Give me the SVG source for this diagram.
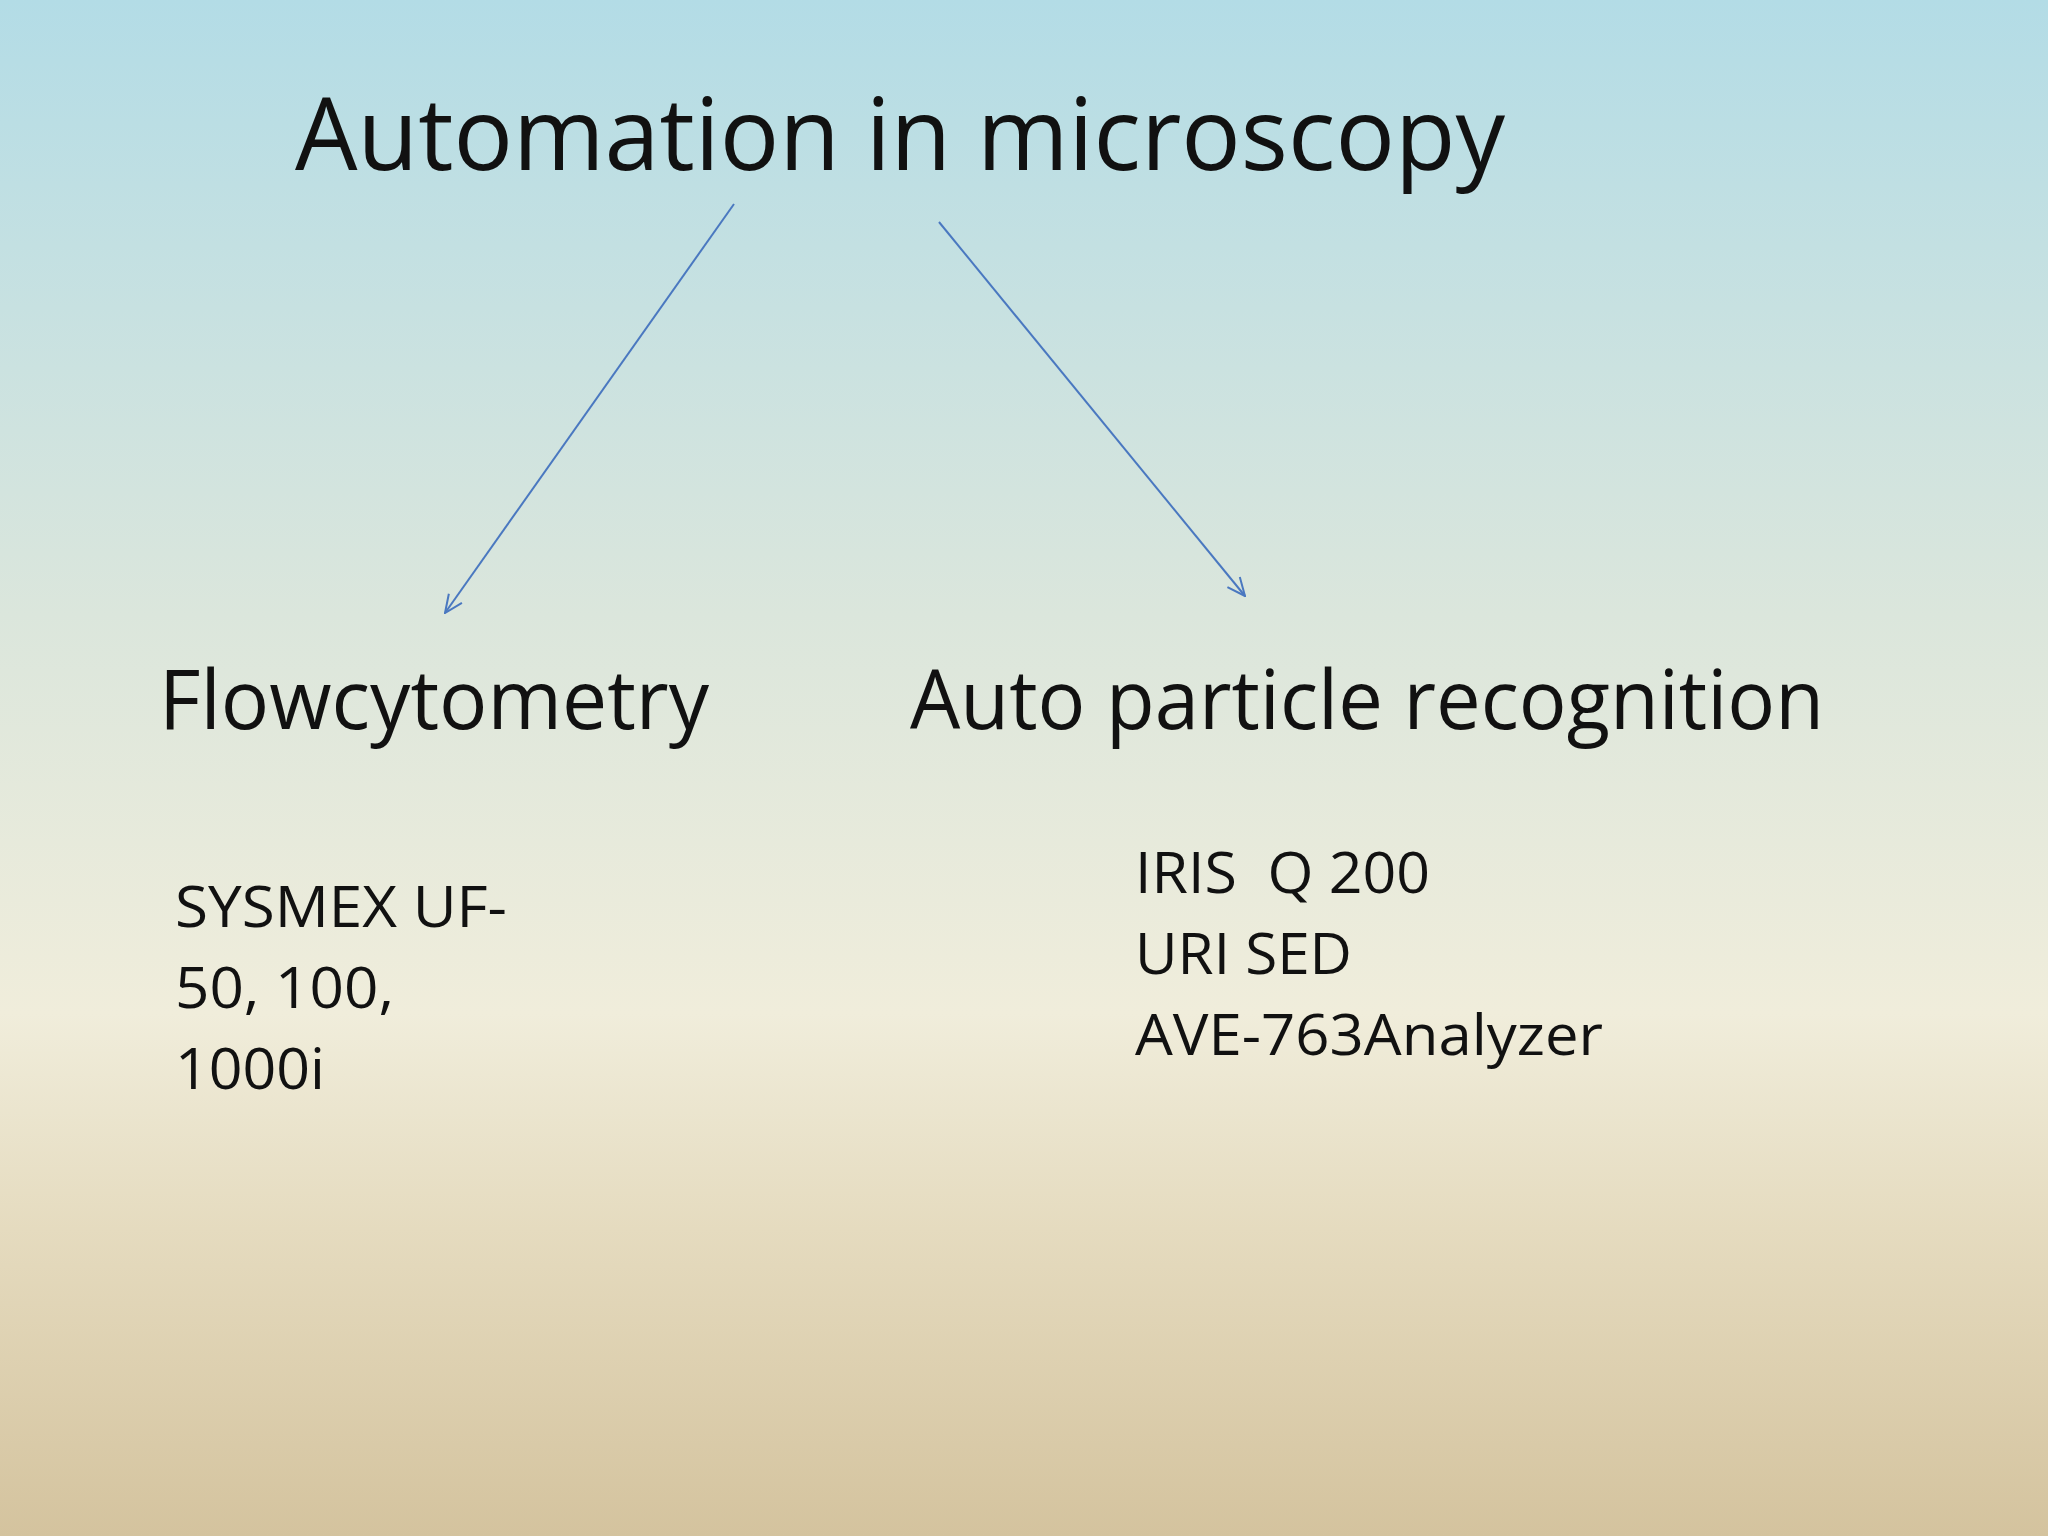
<svg xmlns="http://www.w3.org/2000/svg" width="2048" height="1536" viewBox="0 0 2048 1536">
<defs>
<linearGradient id="bg" x1="0" y1="0" x2="0" y2="1">
<stop offset="0" stop-color="#b3dce6"/>
<stop offset="0.4" stop-color="#dbe6dc"/>
<stop offset="0.66" stop-color="#f0eddb"/>
<stop offset="0.8" stop-color="#e5dbbf"/>
<stop offset="1" stop-color="#d4c39e"/>
</linearGradient>
<marker id="ah" viewBox="0 0 20 20" refX="19" refY="10" markerWidth="20" markerHeight="20" markerUnits="userSpaceOnUse" orient="auto">
<path d="M1,2 L19,10 L1,18" fill="none" stroke="#4a78c0" stroke-width="2"/>
</marker>
<style>
text{font-family:"Open Sans","Noto Sans","Liberation Sans",sans-serif;fill:#111}
.t{font-size:100px}.h{font-size:82px}.s{font-size:56px}
.c{stroke:#4a78c0;stroke-width:2;fill:none;marker-end:url(#ah)}
</style>
</defs>
<rect width="2048" height="1536" fill="url(#bg)"/>
<g id="title"><text class="t" x="295" y="170" textLength="1210" lengthAdjust="spacingAndGlyphs">Automation in microscopy</text></g>
<g id="connectors">
<line class="c" x1="734" y1="204" x2="445" y2="613"/>
<line class="c" x1="939" y1="222" x2="1245" y2="596"/>
</g>
<g id="flow"><text class="h" x="159" y="729" textLength="550" lengthAdjust="spacingAndGlyphs">Flowcytometry</text></g>
<g id="auto"><text class="h" x="910" y="729" textLength="914" lengthAdjust="spacingAndGlyphs">Auto particle recognition</text></g>
<g id="sysmex">
<text class="s" x="175" y="927" textLength="332" lengthAdjust="spacingAndGlyphs">SYSMEX UF-</text>
<text class="s" x="175" y="1008" textLength="219" lengthAdjust="spacingAndGlyphs">50, 100,</text>
<text class="s" x="175" y="1089" textLength="150" lengthAdjust="spacingAndGlyphs">1000i</text>
</g>
<g id="iris">
<text class="s" x="1135" y="893" textLength="295" lengthAdjust="spacingAndGlyphs" xml:space="preserve">IRIS  Q 200</text>
<text class="s" x="1135" y="974" textLength="217" lengthAdjust="spacingAndGlyphs">URI SED</text>
<text class="s" x="1135" y="1055" textLength="468" lengthAdjust="spacingAndGlyphs">AVE-763Analyzer</text>
</g>
</svg>
